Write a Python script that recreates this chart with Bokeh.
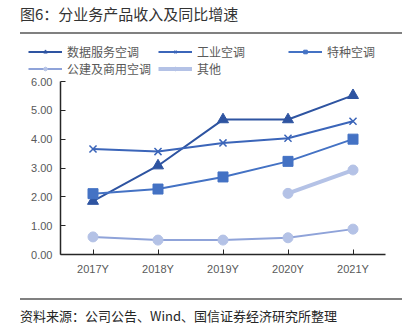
from bokeh.plotting import figure
from bokeh.models import Legend, LegendItem, Div, FixedTicker, NumeralTickFormatter
from bokeh.layouts import column
from bokeh.embed import file_html
from bokeh.resources import INLINE
import numpy as np

years = ["2017Y", "2018Y", "2019Y", "2020Y", "2021Y"]
s_data = [1.85, 3.08, 4.68, 4.68, 5.52]        # 数据服务空调
s_ind = [3.66, 3.57, 3.87, 4.03, 4.62]         # 工业空调
s_spec = [2.11, 2.27, 2.69, 3.23, 4.00]        # 特种空调
s_pub = [0.61, 0.50, 0.50, 0.58, 0.88]         # 公建及商用空调
s_other = [np.nan, np.nan, np.nan, 2.12, 2.93] # 其他
y_ticks = [0, 1, 2, 3, 4, 5, 6]
names = ["数据服务空调", "工业空调", "特种空调", "公建及商用空调", "其他"]

c1, c2, c3, c4, c5 = "#2E54A1", "#3B65B9", "#4472C4", "#8FA3D9", "#B4C2E6"
series = [
    (s_data, c1, c1, "triangle", 11, 2),
    (s_ind, c2, c2, "x", 10, 2),
    (s_spec, c3, c3, "square", 10, 2),
    (s_pub, c4, c5, "circle", 10, 2),
    (s_other, c5, c5, "circle", 10, 4),
]

title_div = Div(width=415, height=40, margin=0, text=(
    '<div style="margin-left:20px;width:382px;border-bottom:2px solid #808080;'
    'font-family:\'Noto Sans CJK SC\';font-size:15px;color:#333;line-height:20px;'
    'padding-top:4px;padding-bottom:8px;">图6：分业务产品收入及同比增速</div>'))
footer_div = Div(width=415, height=39, margin=0, text=(
    '<div style="margin-left:20px;margin-top:8px;width:382px;border-top:2px solid #808080;'
    'font-family:\'Noto Sans CJK SC\';font-size:13px;color:#262626;line-height:18px;'
    'padding-top:7px;">资料来源：公司公告、Wind、国信证券经济研究所整理</div>'))


def draw(fig, vals, lc, mc, marker, size, lw):
    l = fig.line(years, vals, color=lc, line_width=lw)
    if marker == "x":
        m = fig.scatter(years, vals, marker="x", size=size, line_color=mc, line_width=1.5)
    else:
        m = fig.scatter(years, vals, marker=marker, size=size, color=mc)
    return [l, m]


# main chart
p = figure(width=415, height=213, x_range=years, y_range=(0, 6),
           output_backend="svg", toolbar_location=None, margin=0,
           min_border_left=60, min_border_right=30, min_border_top=4, min_border_bottom=36)
p.outline_line_color = None
p.xgrid.visible = False
p.ygrid.visible = False
p.x_range.range_padding = 0
p.yaxis.ticker = FixedTicker(ticks=y_ticks)
p.yaxis.formatter = NumeralTickFormatter(format="0.00")
for ax in (p.xaxis[0], p.yaxis[0]):
    ax.axis_line_color = "#262626"
    ax.axis_line_width = 1.5
    ax.major_tick_line_color = "#262626"
    ax.minor_tick_line_color = None
    ax.major_label_text_font = "Liberation Sans"
    ax.major_label_text_font_size = "11px"
    ax.major_label_text_color = "#595959"
    ax.major_tick_in = 5
    ax.major_tick_out = 0
    ax.major_label_standoff = 8

for s in series:
    draw(p, *s)

# legend strip (same series, drawn in a strip whose y-range shows no data)
lg = figure(width=415, height=37, x_range=years, y_range=(100, 101),
            output_backend="svg", toolbar_location=None, margin=0,
            min_border=0, min_border_left=0, min_border_right=0,
            min_border_top=0, min_border_bottom=0,
            x_axis_type=None, y_axis_type=None)
lg.outline_line_color = None
lg.xgrid.visible = False
lg.ygrid.visible = False
items = []
for name, s in zip(names, series):
    items.append(LegendItem(label=name, renderers=draw(lg, *s)))
legend = Legend(items=items, orientation="horizontal", ncols=3, location=(28, 0),
                padding=0, margin=0, spacing=-7,
                glyph_width=34, glyph_height=9, label_standoff=5, label_height=9, label_width=91,
                label_text_font="Noto Sans CJK SC", label_text_font_size="12px",
                label_text_color="#595959", border_line_color=None, background_fill_alpha=0)
lg.add_layout(legend, "center")

layout = column(title_div, column(lg, margin=0), p, footer_div, spacing=0, margin=0)
open("out.html", "w").write(file_html(layout, INLINE))
